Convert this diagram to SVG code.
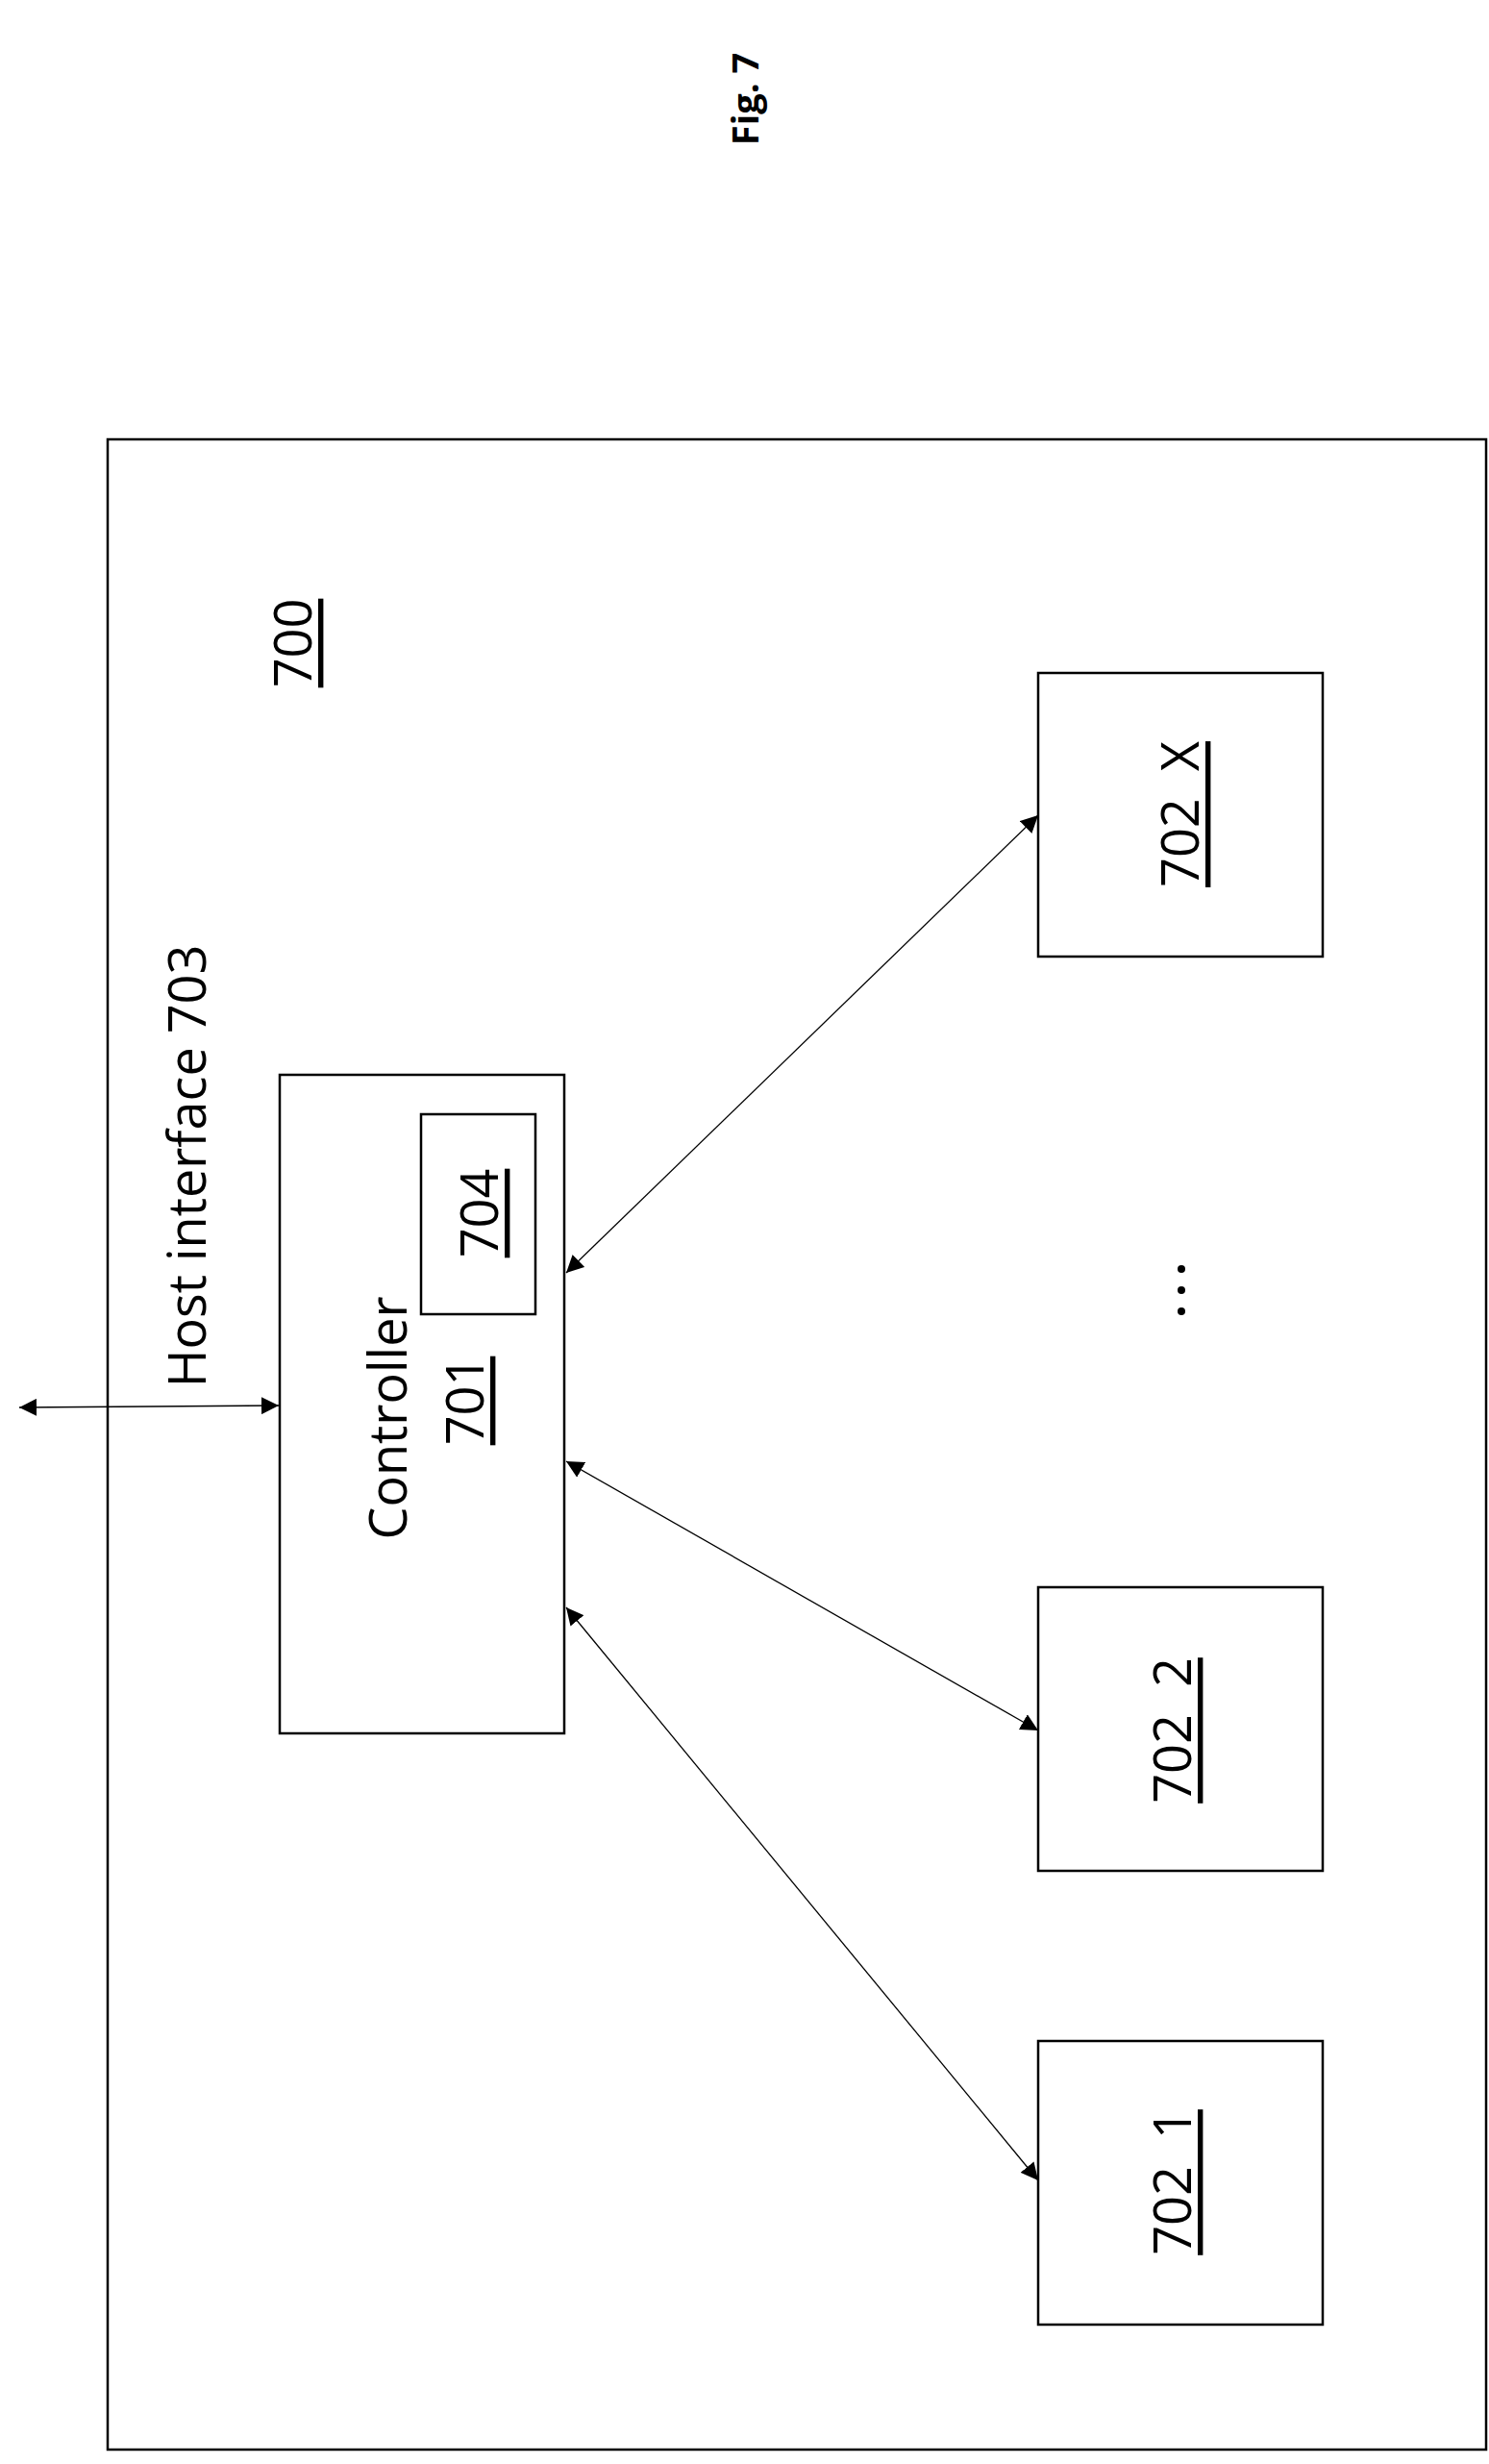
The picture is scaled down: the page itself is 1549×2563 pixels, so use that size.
<svg xmlns="http://www.w3.org/2000/svg" width="1549" height="2563" viewBox="0 0 1549 2563">
<style>
.b{fill:none;stroke:#000;stroke-width:2.5}
.c{stroke:#000;stroke-width:1.3;fill:none;marker-start:url(#a);marker-end:url(#a)}
text{font-family:"Open Sans","Liberation Sans",sans-serif;font-size:54px;fill:#000;text-anchor:middle;dominant-baseline:central}
.u{text-decoration:underline}
</style>
<defs><marker id="a" viewBox="0 0 10 10" refX="10" refY="5" markerWidth="18" markerHeight="18" markerUnits="userSpaceOnUse" orient="auto-start-reverse"><path d="M0,0 L10,5 L0,10 z" fill="#000"/></marker></defs>
<rect width="1549" height="2563" fill="#fff"/>
<g id="fig"><text transform="translate(774,103) rotate(-90)" style="font-weight:bold;font-size:38px">Fig. 7</text></g>
<g id="n700"><rect class="b" x="112" y="457" width="1434" height="2091"/><text class="u" transform="translate(303,669) rotate(-90)">700</text></g>
<g id="n701"><rect class="b" x="291" y="1118" width="296" height="685"/>
<text transform="translate(402,1475) rotate(-90)">Controller</text>
<text class="u" transform="translate(482,1457) rotate(-90)">701</text></g>
<g id="n704"><rect class="b" x="438" y="1159" width="119" height="208"/><text class="u" transform="translate(497,1262) rotate(-90)">704</text></g>
<g id="n702x"><rect class="b" x="1080" y="700" width="296" height="295"/><text class="u" transform="translate(1226,847) rotate(-90)" xml:space="preserve">702  X</text></g>
<g id="n7022"><rect class="b" x="1080" y="1651" width="296" height="295"/><text class="u" transform="translate(1218,1800) rotate(-90)" xml:space="preserve">702  2</text></g>
<g id="n7021"><rect class="b" x="1080" y="2123" width="296" height="295"/><text class="u" transform="translate(1218,2270) rotate(-90)" xml:space="preserve">702  1</text></g>
<g id="dots"><circle cx="1229" cy="1320" r="4"/><circle cx="1229" cy="1342" r="4"/><circle cx="1229" cy="1364" r="4"/></g>
<g id="hostlabel"><text transform="translate(193,1213) rotate(-90)">Host interface 703</text></g>
<g id="connectors">
<line class="c" x1="20" y1="1464" x2="290" y2="1462"/>
<line class="c" x1="589" y1="1324" x2="1080" y2="848"/>
<line class="c" x1="589" y1="1520" x2="1080" y2="1800"/>
<line class="c" x1="589" y1="1672" x2="1080" y2="2268"/>
</g>
</svg>
